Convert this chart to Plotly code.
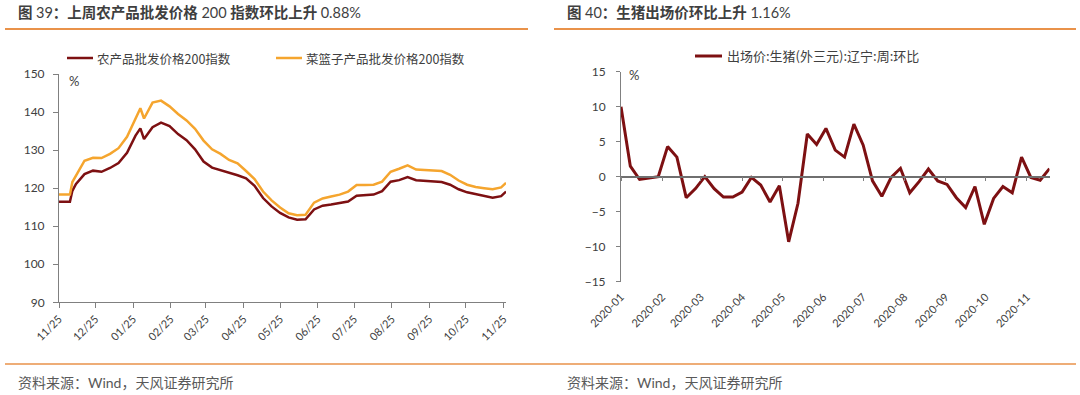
import plotly.graph_objects as go

# ---------------- data: left chart ----------------
dates_left = ["2019-11-25", "2019-12-02", "2019-12-04", "2019-12-06", "2019-12-09", "2019-12-16",
              "2019-12-23", "2019-12-30", "2020-01-06", "2020-01-13", "2020-01-20", "2020-01-27",
              "2020-01-31", "2020-02-03", "2020-02-10", "2020-02-17", "2020-02-24", "2020-03-02",
              "2020-03-09", "2020-03-16", "2020-03-23", "2020-03-30", "2020-04-06", "2020-04-13",
              "2020-04-20", "2020-04-27", "2020-05-04", "2020-05-11", "2020-05-18", "2020-05-25",
              "2020-06-01", "2020-06-08", "2020-06-15", "2020-06-22", "2020-06-29", "2020-07-06",
              "2020-07-13", "2020-07-20", "2020-07-27", "2020-08-03", "2020-08-10", "2020-08-17",
              "2020-08-24", "2020-08-31", "2020-09-07", "2020-09-14", "2020-09-21", "2020-09-28",
              "2020-10-05", "2020-10-12", "2020-10-19", "2020-10-26", "2020-11-02", "2020-11-09",
              "2020-11-16", "2020-11-23", "2020-11-27"]
agri_index = [116.4, 116.4, 116.4, 119.3, 121.1, 123.7, 124.6, 124.3, 125.3, 126.6, 129.3, 133.8,
              135.7, 132.9, 136.0, 137.2, 136.3, 134.2, 132.6, 130.2, 127.0, 125.4, 124.8, 124.0,
              123.4, 122.6, 120.6, 117.4, 115.2, 113.5, 112.3, 111.7, 111.8, 114.4, 115.4, 115.7,
              116.1, 116.5, 118.0, 118.2, 118.3, 119.2, 121.7, 122.1, 122.9, 122.1, 121.9, 121.8,
              121.6, 120.9, 119.7, 118.9, 118.4, 118.1, 117.5, 117.9, 119.1]
basket_index = [118.3, 118.3, 118.3, 121.6, 123.3, 127.2, 128.0, 127.9, 129.0, 130.5, 133.5, 138.2,
                141.0, 138.3, 142.5, 143.0, 141.5, 139.5, 137.8, 135.6, 132.5, 130.2, 129.0, 127.4,
                126.5, 124.5, 122.4, 119.1, 116.8, 114.9, 113.4, 112.9, 113.0, 116.2, 117.3, 117.8,
                118.3, 119.1, 120.8, 120.8, 120.9, 121.7, 124.3, 125.1, 126.0, 124.9, 124.8, 124.7,
                124.5, 123.5, 122.0, 120.9, 120.3, 120.0, 119.7, 120.2, 121.4]
left_tickvals = ["2019-11-25", "2019-12-25", "2020-01-25", "2020-02-25", "2020-03-25", "2020-04-25",
                 "2020-05-25", "2020-06-25", "2020-07-25", "2020-08-25", "2020-09-25", "2020-10-25",
                 "2020-11-25"]
left_ticktext = ["11/25", "12/25", "01/25", "02/25", "03/25", "04/25", "05/25", "06/25", "07/25",
                 "08/25", "09/25", "10/25", "11/25"]

# ---------------- data: right chart ----------------
dates_right = ["2020-01-01", "2020-01-08", "2020-01-15", "2020-01-22", "2020-01-29", "2020-02-05",
               "2020-02-12", "2020-02-19", "2020-02-26", "2020-03-04", "2020-03-11", "2020-03-18",
               "2020-03-25", "2020-04-01", "2020-04-08", "2020-04-15", "2020-04-22", "2020-04-29",
               "2020-05-06", "2020-05-13", "2020-05-20", "2020-05-27", "2020-06-03", "2020-06-10",
               "2020-06-17", "2020-06-24", "2020-07-01", "2020-07-08", "2020-07-15", "2020-07-22",
               "2020-07-29", "2020-08-05", "2020-08-12", "2020-08-19", "2020-08-26", "2020-09-02",
               "2020-09-09", "2020-09-16", "2020-09-23", "2020-09-30", "2020-10-07", "2020-10-14",
               "2020-10-21", "2020-10-28", "2020-11-04", "2020-11-11", "2020-11-18"]
hog_wow = [10.0, 1.5, -0.4, -0.2, 0.0, 4.3, 2.8, -3.0, -1.7, 0.0, -1.7, -2.9, -2.9, -2.2, -0.1,
           -1.2, -3.6, -1.3, -9.3, -3.8, 6.1, 4.6, 6.9, 3.8, 2.8, 7.5, 4.5, -0.6, -2.8, -0.1, 1.2,
           -2.3, -0.7, 1.1, -0.6, -1.1, -3.0, -4.4, -1.4, -6.8, -3.1, -1.4, -2.3, 2.8, -0.1, -0.5,
           1.16]
right_tickvals = ["2020-01-01", "2020-02-01", "2020-03-01", "2020-04-01", "2020-05-01", "2020-06-01",
                  "2020-07-01", "2020-08-01", "2020-09-01", "2020-10-01", "2020-11-01"]
right_ticktext = ["2020-01", "2020-02", "2020-03", "2020-04", "2020-05", "2020-06", "2020-07",
                  "2020-08", "2020-09", "2020-10", "2020-11"]

# ---------------- styling ----------------
W, H = 1080, 395
DARK_RED = "#7D1012"
ORANGE = "#F5A52E"
RULE = "#E9924A"
AXIS = "#808080"
TXT = "#404040"
FONT = "Lato, Noto Sans CJK SC, sans-serif"
CJK = "Noto Sans CJK SC, sans-serif"


def px(x):
    return x / W


def py(y):
    return 1 - y / H


fig = go.Figure()
fig.add_trace(go.Scatter(x=dates_left, y=agri_index, mode="lines", xaxis="x", yaxis="y",
                         line=dict(color=DARK_RED, width=2.5), showlegend=False, hoverinfo="skip"))
fig.add_trace(go.Scatter(x=dates_left, y=basket_index, mode="lines", xaxis="x", yaxis="y",
                         line=dict(color=ORANGE, width=2.5), showlegend=False, hoverinfo="skip"))
fig.add_trace(go.Scatter(x=dates_right, y=hog_wow, mode="lines", xaxis="x2", yaxis="y2",
                         line=dict(color=DARK_RED, width=3), showlegend=False, hoverinfo="skip"))
fig.add_trace(go.Scatter(x=[], y=[], xaxis="x3", yaxis="y2", showlegend=False))

y2_dom = [py(281.7), py(71.7)]
zero_pos = (y2_dom[0] + y2_dom[1]) / 2

fig.update_layout(
    width=W, height=H,
    margin=dict(l=0, r=0, t=0, b=0, autoexpand=False),
    paper_bgcolor="white", plot_bgcolor="white",
    font=dict(family=FONT, color=TXT),
    xaxis=dict(domain=[px(59), px(506)], type="date", range=["2019-11-25", "2020-11-27"],
               tickvals=left_tickvals, ticktext=left_ticktext, tickangle=-45, automargin=False,
               showline=True, linecolor=AXIS, linewidth=1, ticks="outside", ticklen=5,
               tickcolor=AXIS, showgrid=False, zeroline=False, anchor="y",
               tickfont=dict(size=11, color=TXT, family=FONT)),
    yaxis=dict(domain=[py(302.3), py(74)], range=[90, 150], dtick=10, tick0=90, automargin=False,
               showline=True, linecolor=AXIS, linewidth=1, ticks="outside", ticklen=5,
               tickcolor=AXIS, showgrid=False, zeroline=False, anchor="x",
               ticklabelstandoff=6, tickfont=dict(size=12, color=TXT, family=FONT)),
    xaxis2=dict(domain=[px(621), px(1049.5)], type="date", range=["2020-01-01", "2020-11-18"],
                tickvals=right_tickvals, ticktext=right_ticktext, tickangle=-45, automargin=False,
                showline=False, ticks="", showgrid=False, zeroline=False, anchor="y2",
                ticklabelstandoff=6, tickfont=dict(size=11, color=TXT, family=FONT)),
    xaxis3=dict(type="date", range=["2020-01-01", "2020-11-18"], overlaying="x2", automargin=False,
                anchor="free", position=zero_pos, tickvals=right_tickvals,
                showticklabels=False, showline=True, linecolor="#6F6F6F", linewidth=1.5,
                ticks="outside", ticklen=4, tickcolor=AXIS, showgrid=False, zeroline=False),
    yaxis2=dict(domain=y2_dom, range=[-15, 15], dtick=5, tick0=-15, automargin=False,
                showline=True, linecolor=AXIS, linewidth=1, ticks="outside", ticklen=4,
                tickcolor=AXIS, showgrid=False, zeroline=False, anchor="x2",
                ticklabelstandoff=8, tickfont=dict(size=12, color=TXT, family=FONT)),
)

shapes = []
# header / footer rules
shapes.append(dict(type="line", xref="paper", yref="paper", x0=px(5), x1=px(528), y0=py(29), y1=py(29),
                   line=dict(color=RULE, width=2)))
shapes.append(dict(type="line", xref="paper", yref="paper", x0=px(554), x1=px(1076), y0=py(29), y1=py(29),
                   line=dict(color=RULE, width=2)))
shapes.append(dict(type="line", xref="paper", yref="paper", x0=px(5), x1=px(1076), y0=py(364), y1=py(364),
                   line=dict(color=RULE, width=1.5)))
# legend samples
shapes.append(dict(type="line", xref="paper", yref="paper", x0=px(67), x1=px(93), y0=py(58), y1=py(58),
                   line=dict(color=DARK_RED, width=2.5)))
shapes.append(dict(type="line", xref="paper", yref="paper", x0=px(276), x1=px(302), y0=py(58), y1=py(58),
                   line=dict(color=ORANGE, width=2.5)))
shapes.append(dict(type="line", xref="paper", yref="paper", x0=px(695), x1=px(722), y0=py(56), y1=py(56),
                   line=dict(color=DARK_RED, width=3)))
fig.update_layout(shapes=shapes)

ann = []


def text(x, y, s, size, color=TXT, family=CJK, xanchor="left"):
    ann.append(dict(x=px(x), y=py(y), xref="paper", yref="paper", text=s, showarrow=False,
                    xanchor=xanchor, yanchor="middle", font=dict(size=size, color=color, family=family)))


text(16, 12, "<b>图 </b>39<b>：上周农产品批发价格 </b>200<b> 指数环比上升 </b>0.88%", 14.5, "#3F3F3F", FONT)
text(565, 12, "<b>图 </b>40<b>：生猪出场价环比上升 </b>1.16%", 14.5, "#3F3F3F", FONT)
text(16, 382, "资料来源：Wind，天风证券研究所", 14, "#595959", FONT)
text(565, 382, "资料来源：Wind，天风证券研究所", 14, "#595959", FONT)
text(95, 58, "农产品批发价格200指数", 12.5, TXT, CJK)
text(304, 58, "菜篮子产品批发价格200指数", 12.5, TXT, CJK)
text(725, 56, "出场价:生猪(外三元):辽宁:周:环比", 13, TXT, CJK)
text(67, 81, "%", 13, TXT, FONT)
text(627, 75, "%", 13, TXT, FONT)
fig.update_layout(annotations=ann)

fig.write_html("out.html", config={"displayModeBar": False},
               post_script="document.body.style.margin='0px';")
